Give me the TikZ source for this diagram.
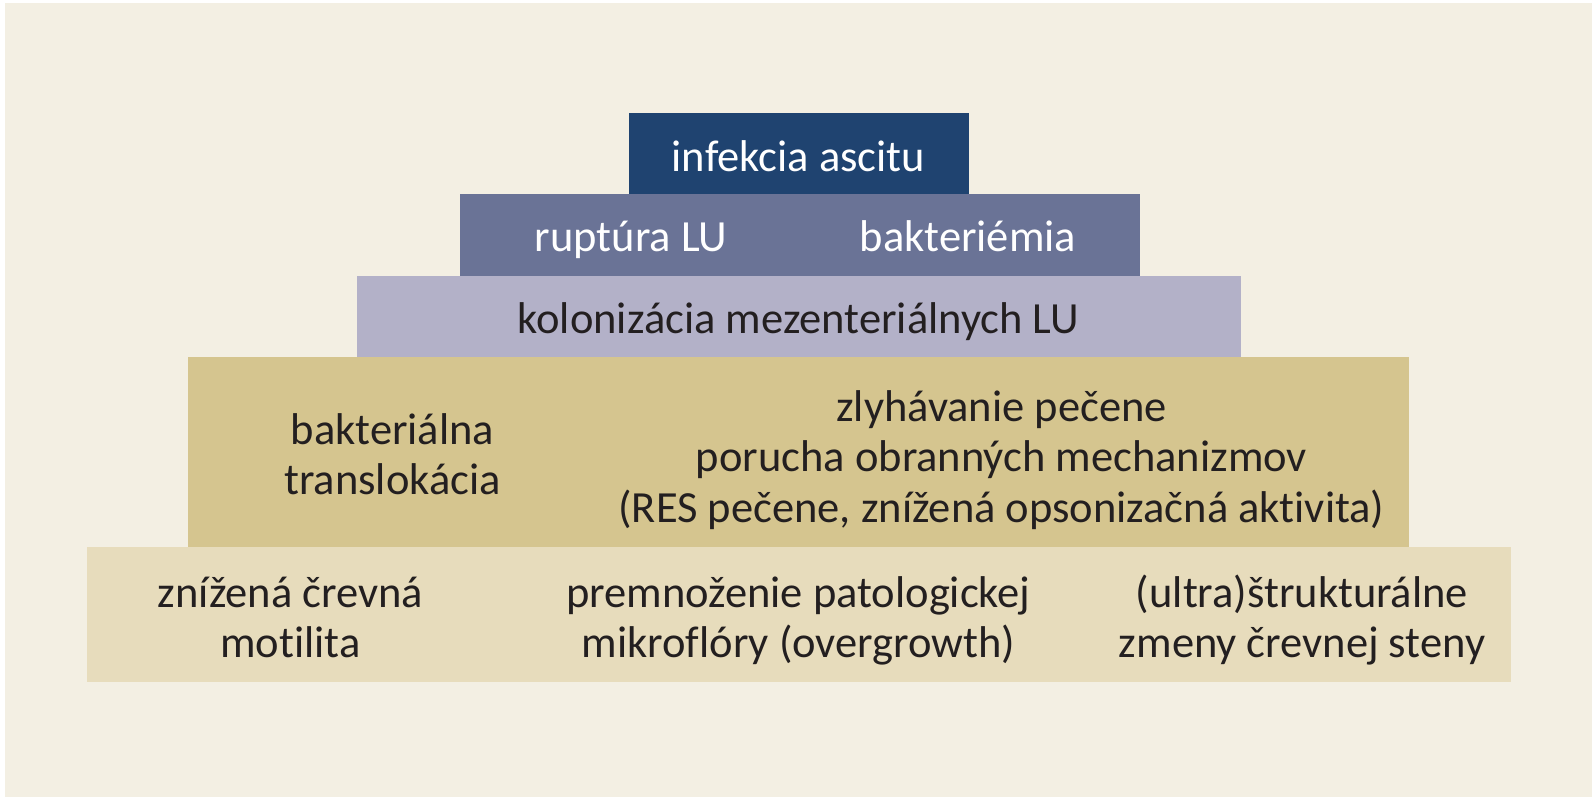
\documentclass[tikz,border=0pt]{standalone}
\usepackage{fontspec}
\setmainfont{Carlito}[Ligatures=NoCommon]
\definecolor{bgcream}{HTML}{F3EFE3}
\definecolor{navy}{HTML}{1F4370}
\definecolor{slate}{HTML}{6A7396}
\definecolor{lavender}{HTML}{B3B1C8}
\definecolor{ochre}{HTML}{D5C58F}
\definecolor{sand}{HTML}{E7DCBC}
\definecolor{ink}{HTML}{231F20}
\newcommand{\lines}[1]{\begin{tabular}[t]{@{}c@{}}#1\end{tabular}}
\tikzset{
  lbl/.style={inner sep=0pt, outer sep=0pt, anchor=base, text=ink,
    font=\fontsize{44.5}{50.5}\selectfont},
  wlbl/.style={lbl, text=white},
}
\begin{document}
\begin{tikzpicture}[x=1pt,y=-1pt]
\useasboundingbox (0,0) rectangle (1595,800);
\fill[white] (0,0) rectangle (1595,800);
\fill[bgcream] (5,3) rectangle (1592,797);
% layers
\fill[navy]     (628.5,113) rectangle (968.5,194);
\fill[slate]    (459.5,194) rectangle (1139.5,275.5);
\fill[lavender] (356.5,275.5) rectangle (1241,356.5);
\fill[ochre]    (188,356.5) rectangle (1409,546.5);
\fill[sand]     (87,546.5) rectangle (1511,682);
% labels
\node[wlbl] (top) at (798.5,171) {infekcia ascitu};
\node[wlbl] (rupt) at (631,251.5) {ruptúra LU};
\node[wlbl] (bakt) at (968,251.5) {bakteriémia};
\node[lbl] (kolon) at (798.5,333) {kolonizácia mezenteriálnych LU};
\node[lbl] (transl) at (392.5,444) {\lines{bakteriálna\\translokácia}};
\node[lbl] (zlyh) at (1001.5,421) {\lines{zlyhávanie pečene\\porucha obranných mechanizmov\\(RES pečene, znížená opsonizačná aktivita)}};
\node[lbl] (motil) at (290.5,607) {\lines{znížená črevná\\motilita}};
\node[lbl] (premn) at (798.5,607) {\lines{premnoženie patologickej\\mikroflóry (overgrowth)}};
\node[lbl] (strukt) at (1302,607) {\lines{(ultra)štrukturálne\\zmeny črevnej steny}};
\end{tikzpicture}
\end{document}
